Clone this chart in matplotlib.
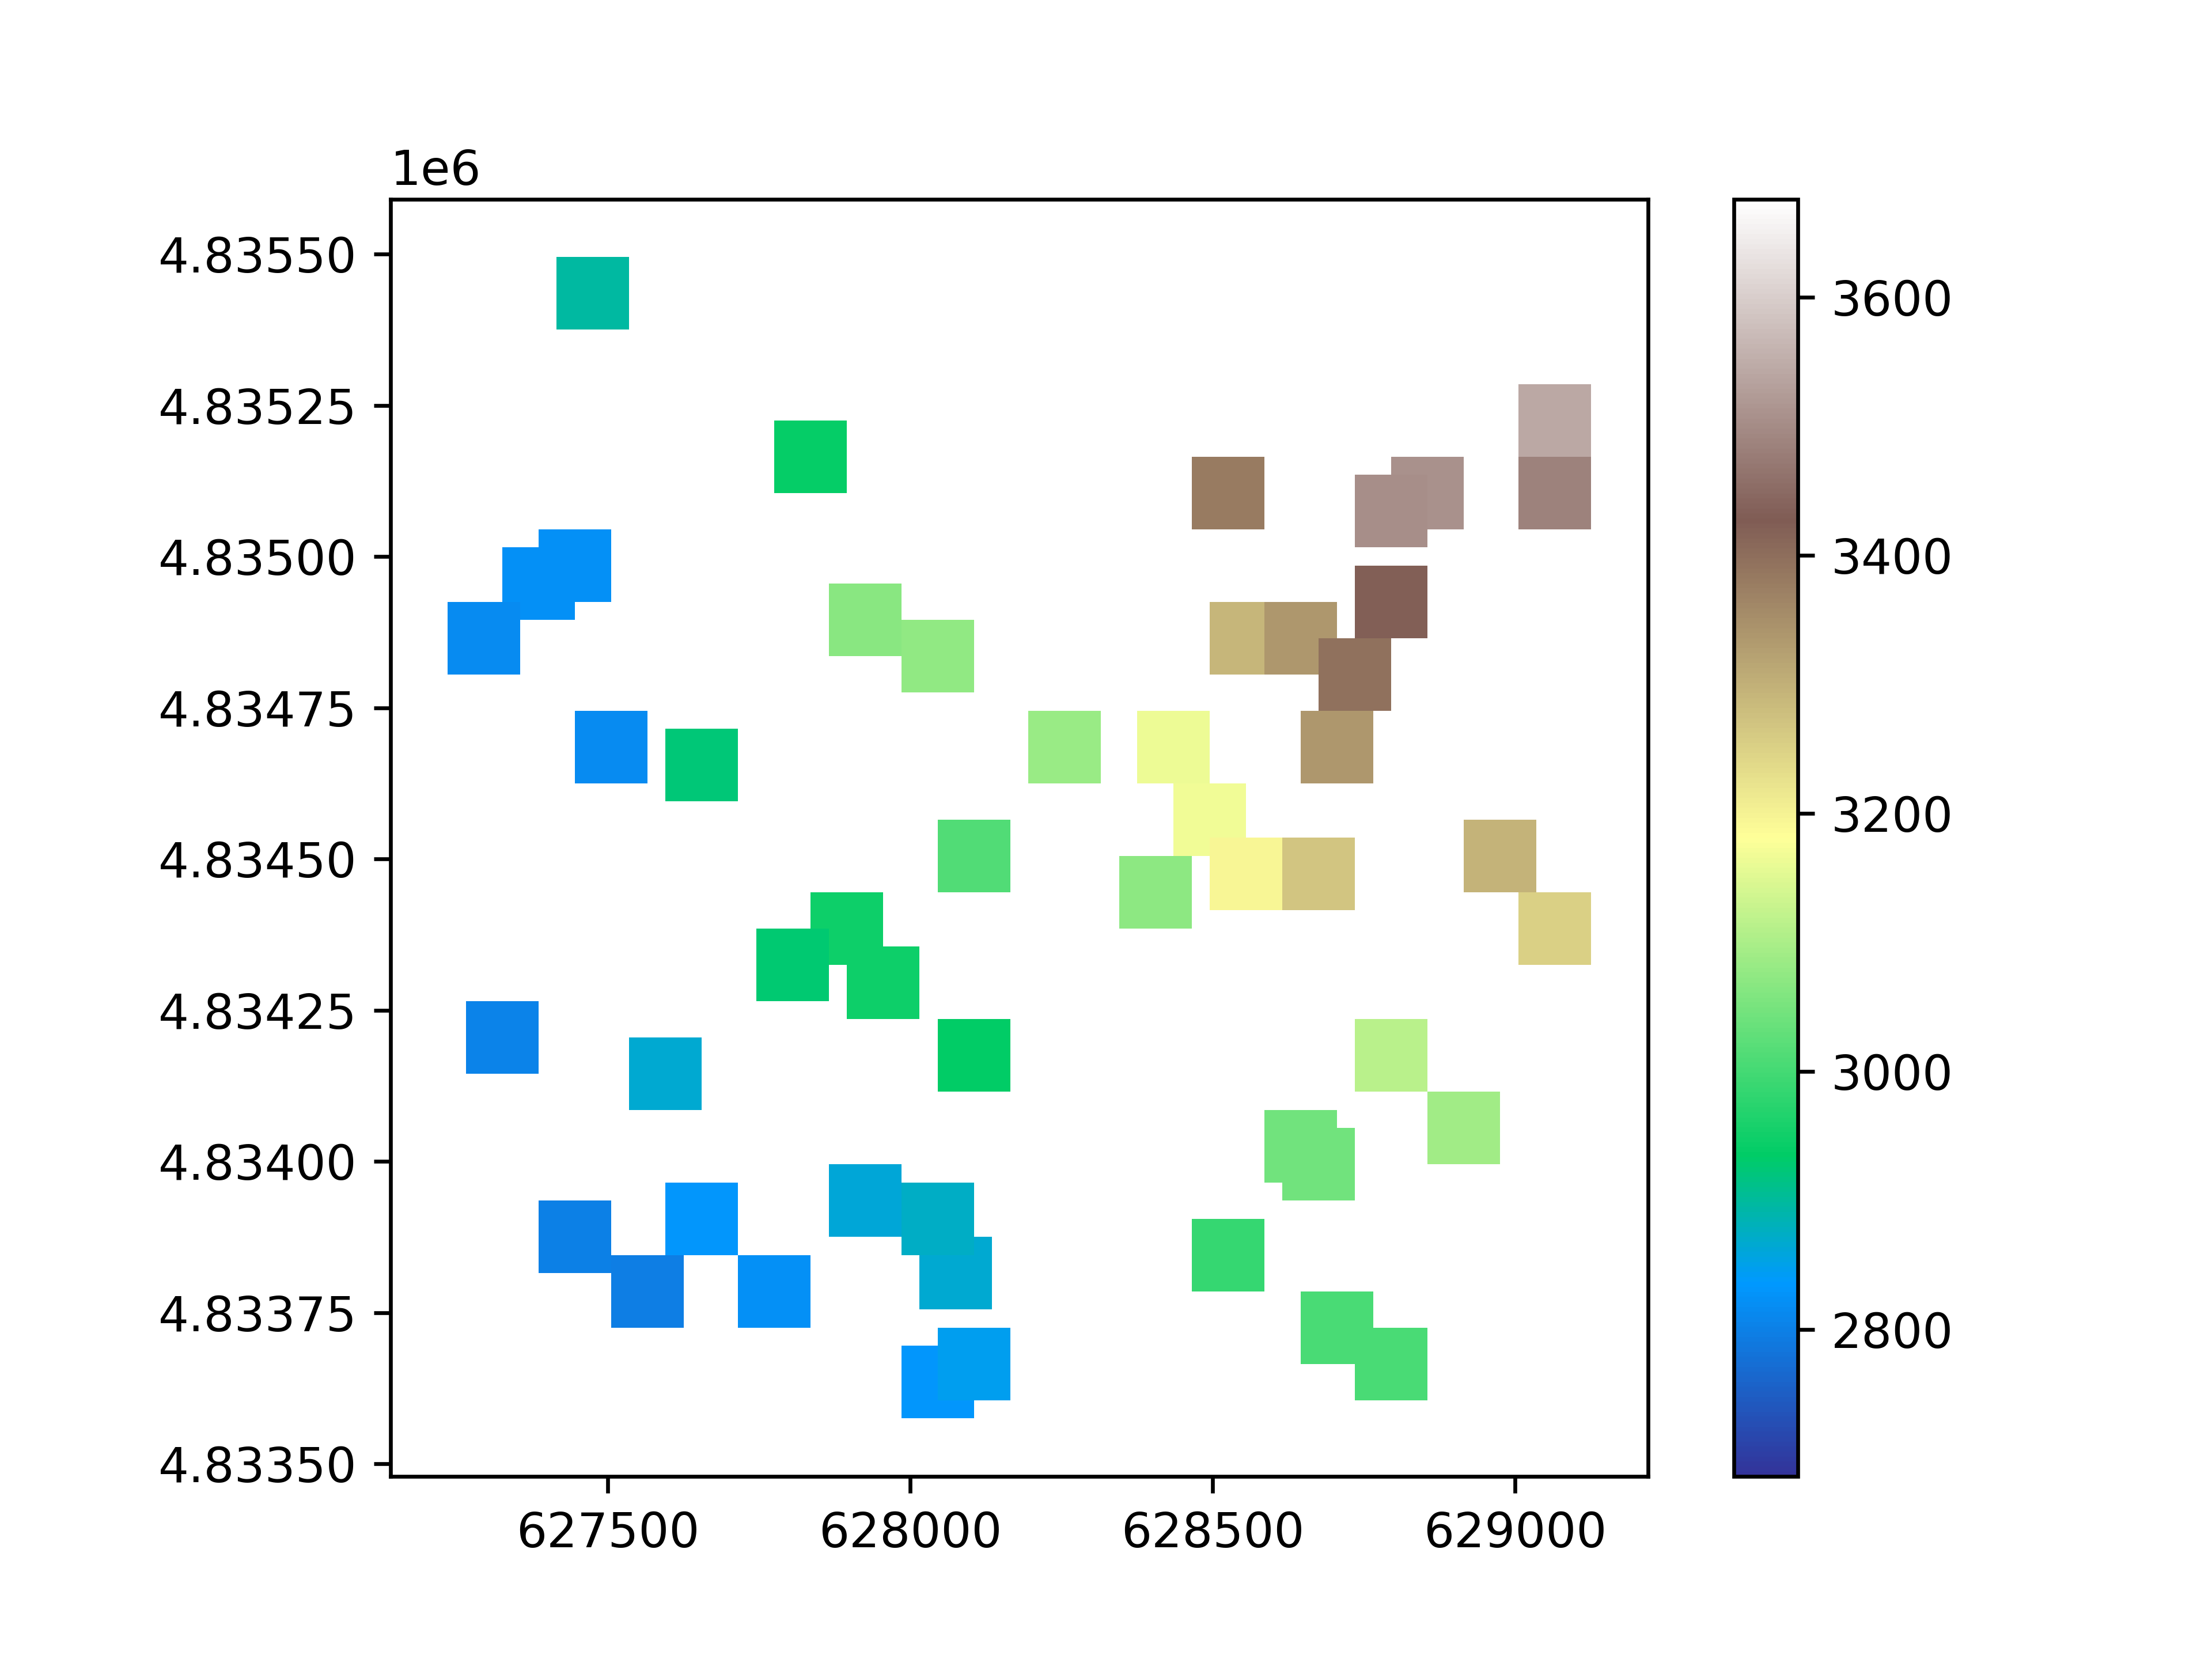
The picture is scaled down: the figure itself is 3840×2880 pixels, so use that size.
import matplotlib
matplotlib.use("Agg")
import matplotlib.pyplot as plt
from matplotlib.collections import PatchCollection
from matplotlib.patches import Rectangle

# cell centres (easting, northing) and elevation of each sample
easting = [
    627475, 627835, 627385, 627445, 627295, 627925, 628045, 629065, 629065, 628525,
    628855, 628795, 628795, 628555, 628645, 628735, 628705, 628255, 628435, 628495,
    628555, 628675, 628975, 629065, 628405, 628795, 628915, 628645, 628675, 628525,
    628705, 628795, 628105, 627895, 627805, 627955, 628105, 627325, 627595, 627445,
    627565, 627655, 627775, 627925, 628075, 628045, 628045, 628105, 627505, 627655,
]
northing = [
    4835435, 4835165, 4834955, 4834985, 4834865, 4834895, 4834835, 4835225, 4835105, 4835105,
    4835105, 4835075, 4834925, 4834865, 4834865, 4834805, 4834685, 4834685, 4834685, 4834565,
    4834475, 4834475, 4834505, 4834385, 4834445, 4834175, 4834055, 4834025, 4833995, 4833845,
    4833725, 4833665, 4834505, 4834385, 4834325, 4834295, 4834175, 4834205, 4834145, 4833875,
    4833785, 4833905, 4833785, 4833935, 4833815, 4833905, 4833635, 4833665, 4834685, 4834655,
]
elevation = [
    2896, 2939, 2825, 2825, 2814, 3065, 3075, 3542, 3485, 3381,
    3508, 3503, 3423, 3290, 3336, 3396, 3336, 3081, 3163, 3168,
    3194, 3268, 3295, 3252, 3069, 3114, 3089, 3042, 3042, 2987,
    3006, 3006, 3014, 2947, 2927, 2947, 2937, 2805, 2867, 2799,
    2797, 2832, 2823, 2862, 2864, 2873, 2830, 2848, 2814, 2925,
]

cell_size = 120
elev_min = 2686
elev_max = 3676

fig = plt.figure(figsize=(6.4, 4.8), dpi=600)
ax = fig.add_axes([0.125, 0.11, 0.62, 0.77])
ax.set_anchor("E")

cells = [Rectangle((x - cell_size / 2, y - cell_size / 2), cell_size, cell_size)
         for x, y in zip(easting, northing)]
coll = PatchCollection(cells, cmap="terrain", linewidths=0)
coll.set_array(elevation)
coll.set_clim(elev_min, elev_max)
ax.add_collection(coll)
ax.autoscale_view()
ax.set_aspect("equal")

cax = fig.add_axes([0.7838, 0.11, 0.02888, 0.77])
fig.colorbar(coll, cax=cax)

fig.savefig("out.png")
